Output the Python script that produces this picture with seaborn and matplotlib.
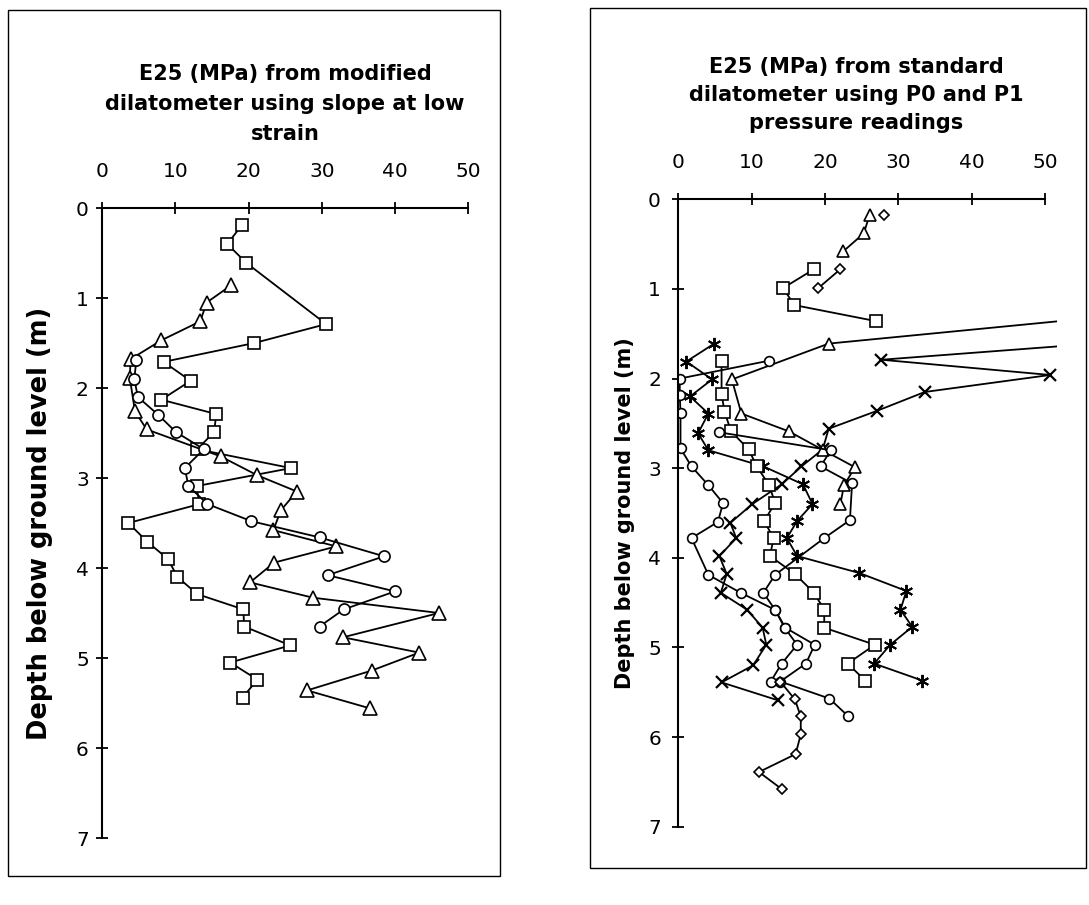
import numpy as np
import pandas as pd
import matplotlib
matplotlib.use("Agg")
import matplotlib.pyplot as plt
import seaborn as sns
from matplotlib.patches import Rectangle

nan = np.nan

# ---------------- Left panel: modified dilatometer (slope at low strain) ----------------
left_title = "E25 (MPa) from modified\ndilatometer using slope at low\nstrain"
L_sq_depth = [0.19, 0.40, 0.61, 1.29, 1.50, 1.71, 1.92, 2.13, 2.29, 2.49, 2.68, 2.89, 3.09,
              3.29, 3.50, 3.71, 3.90, 4.10, 4.29, 4.46, 4.65, 4.86, 5.05, 5.24, 5.44]
L_sq_val = [19.1, 17.1, 19.7, 30.6, 20.8, 8.4, 12.1, 8.1, 15.6, 15.3, 13.0, 25.8, 12.9,
            13.3, 3.6, 6.2, 9.0, 10.3, 13.0, 19.3, 19.4, 25.7, 17.5, 21.2, 19.2]

L_tri_depth = [0.86, 1.05, 1.26, 1.47, 1.68, 1.89, 2.26, 2.46, 2.76, 2.97, 3.15, 3.36,
               3.58, 3.76, 3.94, 4.16, 4.33, 4.50, 4.77, 4.94, 5.14, 5.36, 5.56]
L_tri_val = [17.6, 14.3, 13.4, 8.1, 3.9, 3.8, 4.5, 6.1, 16.2, 21.2, 26.6, 24.4,
             23.4, 32.0, 23.5, 20.2, 28.8, 46.0, 32.9, 43.3, 36.8, 28.0, 36.6]

L_cir_depth = [1.69, 1.90, 2.10, 2.30, 2.49, 2.68, 2.89, 3.09, 3.29, 3.48, 3.66, 3.87,
               4.08, 4.26, 4.46, 4.65]
L_cir_val = [4.7, 4.4, 4.9, 7.7, 10.1, 13.9, 11.3, 11.8, 14.4, 20.4, 29.7, 38.5,
             30.8, 40.0, 33.0, 29.7]

# ---------------- Right panel: standard dilatometer (P0 and P1) ----------------
right_title = "E25 (MPa) from standard\ndilatometer using P0 and P1\npressure readings"
R_tri_depth = [0.17, 0.38, 0.58, nan, 1.20, 1.61, 2.01, 2.39, 2.59, 2.80, 2.99, 3.19, 3.40]
R_tri_val = [26.1, 25.3, 22.5, nan, 72.0, 20.5, 7.3, 8.6, 15.1, 19.8, 24.1, 22.6, 22.1]

R_dia_depth = [0.17, nan, 0.78, 0.99, nan, 5.38, 5.58, 5.77, 5.97, 6.19, 6.39, 6.58]
R_dia_val = [28.1, nan, 22.1, 19.1, nan, 13.9, 15.9, 16.7, 16.7, 16.0, 11.0, 14.1]

R_sq_depth = [0.78, 0.99, 1.18, 1.36, nan, 1.80, 2.17, 2.37, 2.59, 2.79, 2.98, 3.19, 3.39,
              3.59, 3.78, 3.98, 4.18, 4.39, 4.58, 4.78, 4.97, 5.18, 5.37]
R_sq_val = [18.5, 14.3, 15.8, 27.0, nan, 5.9, 5.9, 6.3, 7.2, 9.6, 10.7, 12.4, 13.2,
            11.7, 13.0, 12.5, 15.9, 18.5, 19.9, 19.9, 26.8, 23.1, 25.5]

R_cirA_depth = [1.80, 2.00, 2.18, 2.38, 2.78, 2.98, 3.19, 3.39, 3.60, 3.78, 4.19, 4.39,
                4.58, 4.78, 4.97, 5.18, 5.38, 5.57, 5.77]
R_cirA_val = [12.4, 0.2, 0.2, 0.3, 0.3, 1.8, 4.1, 6.1, 5.4, 1.8, 4.1, 8.5,
              13.2, 14.6, 18.6, 17.4, 13.9, 20.6, 23.2]

R_cirB_depth = [2.60, 2.80, 2.98, 3.17, 3.58, 3.78, 4.19, 4.39, 4.58, 4.78, 4.97, 5.18, 5.38]
R_cirB_val = [5.6, 20.8, 19.4, 23.7, 23.4, 19.9, 13.2, 11.6, 13.2, 14.5, 16.2, 14.1, 12.6]

R_ast_depth = [1.61, 1.81, 2.01, 2.20, 2.39, 2.61, 2.80, 2.98, 3.18, 3.40, 3.59, 3.78,
               3.98, 4.17, 4.37, 4.58, 4.77, 4.97, 5.18, 5.37]
R_ast_val = [4.9, 1.1, 4.6, 1.6, 4.1, 2.7, 4.1, 11.6, 17.0, 18.3, 16.2, 14.8,
             16.2, 24.7, 31.1, 30.3, 31.9, 28.9, 26.7, 33.3]

R_x_depth = [1.59, 1.79, 1.96, 2.15, 2.36, 2.56, 2.79, 2.98, 3.18, 3.40, 3.61, 3.78,
             3.98, 4.18, 4.39, 4.58, 4.78, 4.97, 5.20, 5.39, 5.59]
R_x_val = [60.0, 27.7, 50.7, 33.6, 27.1, 20.5, 19.7, 16.8, 14.1, 10.1, 7.1, 7.9,
           5.6, 6.6, 5.8, 9.4, 11.5, 12.0, 10.2, 5.9, 13.6]

x_ticks = [0, 10, 20, 30, 40, 50]
y_ticks = [0, 1, 2, 3, 4, 5, 6, 7]
y_label = "Depth below ground level (m)"

sns.set_theme(style="white")
plt.rcParams['font.family'] = ['DejaVu Sans']

W, H = 1089, 905
fig = plt.figure(figsize=(W / 100, H / 100), dpi=100)
fig.patch.set_facecolor("white")

axL = fig.add_axes([102 / W, 1 - 838 / H, 378 / W, 630 / H])
axR = fig.add_axes([678.3 / W, 1 - 826.7 / H, 378.4 / W, 627.4 / H])


def draw(ax, vals, depths, marker, ms, filled=True, mew=1.2):
    df = pd.DataFrame({"v": vals, "d": depths})
    df["seg"] = df["v"].isna().cumsum()
    df = df.dropna().reset_index(drop=True)
    kw = dict(marker=marker, ms=ms, mec="black", mew=mew)
    if filled:
        kw["mfc"] = "white"
    sns.lineplot(data=df, x="v", y="d", units="seg", estimator=None, sort=False,
                 color="black", lw=1.3, ax=ax, legend=False, **kw)


# Left panel series
draw(axL, L_sq_val, L_sq_depth, "s", 8.5)
draw(axL, L_tri_val, L_tri_depth, "^", 9.5)
draw(axL, L_cir_val, L_cir_depth, "o", 8.0)

# Right panel series
draw(axR, R_x_val, R_x_depth, "x", 8.5, filled=False, mew=1.6)
draw(axR, R_ast_val, R_ast_depth, (6, 2, 0), 9.5, filled=False, mew=1.4)
draw(axR, R_sq_val, R_sq_depth, "s", 8.0)
draw(axR, R_tri_val, R_tri_depth, "^", 8.5)
draw(axR, R_cirA_val, R_cirA_depth, "o", 7.0)
draw(axR, R_cirB_val, R_cirB_depth, "o", 7.0)
draw(axR, R_dia_val, R_dia_depth, "D", 5.5)

for ax, ypad, ylab_size, ylab_x in ((axL, 5, 18.5, -0.165), (axR, 8, 15, -0.141)):
    ax.set_xlim(0, 51.6)
    ax.set_ylim(7, 0)
    ax.xaxis.set_ticks_position("top")
    ax.xaxis.set_label_position("top")
    ax.set_xticks(x_ticks)
    ax.set_xticklabels([str(t) for t in x_ticks])
    ax.set_yticks(y_ticks)
    ax.set_yticklabels([str(t) for t in y_ticks])
    ax.spines["right"].set_visible(False)
    ax.spines["bottom"].set_visible(False)
    ax.spines["top"].set_bounds(0, 50)
    for s in ("top", "left"):
        ax.spines[s].set_color("black")
        ax.spines[s].set_linewidth(1.5)
    ax.tick_params(axis="x", direction="inout", length=9, width=1.3, colors="black",
                   labelsize=14.5, pad=15, top=True, bottom=False)
    ax.tick_params(axis="y", direction="inout", length=9, width=1.3, colors="black",
                   labelsize=14.5, pad=ypad, left=True)
    ax.set_xlabel("")
    ax.set_ylabel(y_label, fontsize=ylab_size, fontweight="bold", color="black")
    ax.yaxis.label.set_verticalalignment("center")
    ax.yaxis.set_label_coords(ylab_x, 0.5)
    ax.patch.set_alpha(0)
    ax.grid(False)

fig.text(285 / W, 1 - 104 / H, left_title, ha="center", va="center", fontsize=15,
         fontweight="bold", linespacing=1.6, color="black")
fig.text(856 / W, 1 - 95 / H, right_title, ha="center", va="center", fontsize=15,
         fontweight="bold", linespacing=1.5, color="black")

# Frames around each chart
fig.add_artist(Rectangle((8 / W, 1 - 876 / H), 492 / W, 866 / H, transform=fig.transFigure,
                         fill=False, ec="black", lw=1.0))
fig.add_artist(Rectangle((590 / W, 1 - 868 / H), 496 / W, 860 / H, transform=fig.transFigure,
                         fill=False, ec="black", lw=1.0))

fig.savefig("out.png", dpi=100, facecolor="white")
